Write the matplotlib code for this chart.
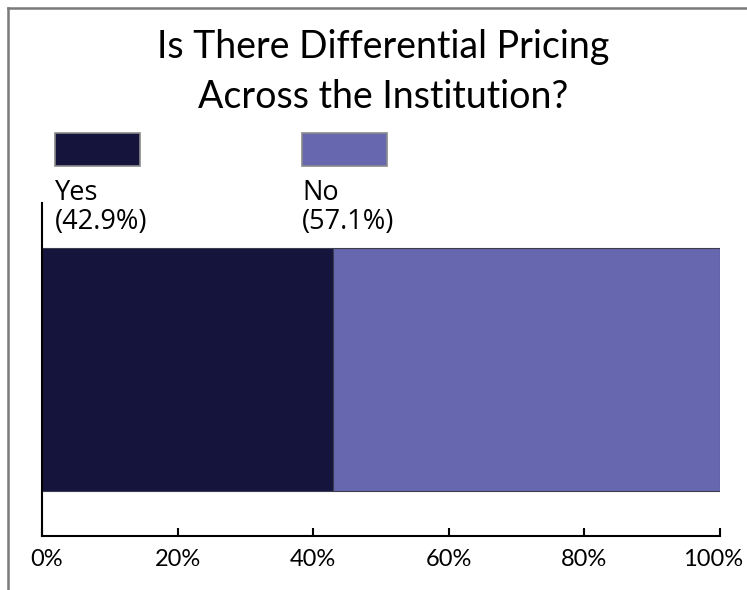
import matplotlib
matplotlib.use('Agg')
import matplotlib.pyplot as plt
import matplotlib.transforms as mtransforms
from matplotlib.patches import Rectangle
from matplotlib.lines import Line2D

# data
categories = ['Yes', 'No']
shares = [42.9, 57.1]
colors = ['#14143c', '#6667ae']
ticks = [0, 20, 40, 60, 80, 100]
tick_labels = ['0%', '20%', '40%', '60%', '80%', '100%']
title = 'Is There Differential Pricing\nAcross the Institution?'

W, H = 747, 590
fig = plt.figure(figsize=(W / 100, H / 100), dpi=100)
fig.patch.set_facecolor('white')

ax = fig.add_axes([42 / W, 1 - 536 / H, (719.5 - 42) / W, (536 - 203) / H])

left = 0
for cat, val, col in zip(categories, shares, colors):
    ax.barh(0, val, left=left, height=1.0, color=col, edgecolor='#3c3c50',
            linewidth=0.8, label=cat)
    left += val

ax.set_xlim(0, 100)
ax.set_ylim(-0.6875, 0.6875)
ax.set_yticks([])
ax.set_xticks(ticks)
ax.set_xticklabels(tick_labels, fontfamily='Lato', fontsize=17)
ax.tick_params(axis='x', direction='in', length=6, width=1.5, pad=9, colors='black')
ax.spines['top'].set_visible(False)
ax.spines['right'].set_visible(False)
for s in ['left', 'bottom']:
    ax.spines[s].set_linewidth(1.5)
    ax.spines[s].set_color('black')

# keep the end labels inside the picture, like the original
labs = ax.get_xticklabels()
labs[0].set_transform(labs[0].get_transform() +
                      mtransforms.ScaledTranslation(5 / 100, 0, fig.dpi_scale_trans))
labs[-1].set_transform(labs[-1].get_transform() +
                       mtransforms.ScaledTranslation(-6 / 100, 0, fig.dpi_scale_trans))

# title
fig.text(383 / W, 1 - 72 / H, title, ha='center', va='center',
         fontfamily='Lato', fontsize=27, linespacing=1.45)

# legend: swatch above label
leg_x = [55, 302]
for cat, val, col, lx in zip(categories, shares, colors, leg_x):
    fig.patches.append(Rectangle((lx / W, 1 - 166 / H), 85 / W, 33 / H,
                                 transform=fig.transFigure, facecolor=col,
                                 edgecolor='#8a8a8a', linewidth=1.2))
    fig.text(lx / W, 1 - 179 / H, f'{cat}\n({val}%)', ha='left', va='top',
             fontfamily='Open Sans', fontsize=19.5, linespacing=1.05)

# frame lines (top and left)
fig.add_artist(Line2D([8 / W, 1], [1 - 8 / H, 1 - 8 / H], transform=fig.transFigure,
                      color='#7a7a7a', linewidth=1.8))
fig.add_artist(Line2D([8 / W, 8 / W], [0, 1 - 8 / H], transform=fig.transFigure,
                      color='#7a7a7a', linewidth=1.8))

fig.savefig('out.png', dpi=100)
